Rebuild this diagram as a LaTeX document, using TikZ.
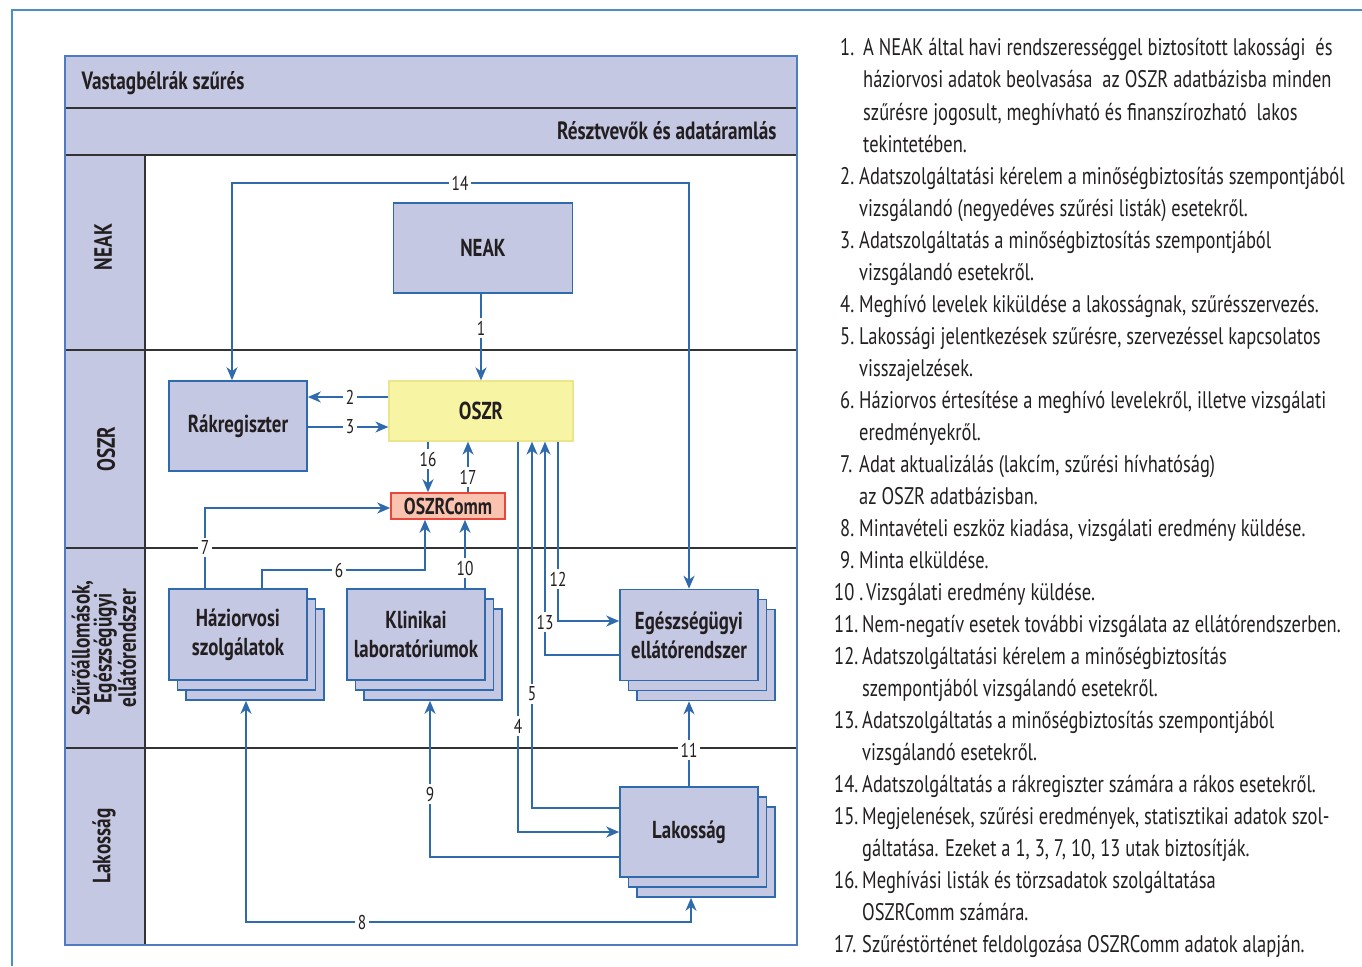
\documentclass[tikz,border=0pt]{standalone}
\usepackage{fontspec}
\setmainfont{PT Sans}[FakeStretch=0.77]
\usetikzlibrary{shadows,arrows.meta}
\definecolor{lav}{HTML}{C5C8E3}
\definecolor{bl}{HTML}{2F6AAC}
\definecolor{fr}{HTML}{4A90C8}
\definecolor{frm}{HTML}{4F7CC0}
\definecolor{ylw}{HTML}{F7F4A4}
\definecolor{ylwd}{HTML}{EBE68C}
\definecolor{sal}{HTML}{F9C3B0}
\definecolor{redb}{HTML}{E8473B}
\definecolor{txt}{HTML}{231F20}
\begin{document}
\begin{tikzpicture}[x=1pt,y=-1pt,
  box/.style={draw=bl, fill=lav, line width=1.6pt, minimum width=138pt, minimum height=91pt, inner sep=0pt, align=center, font=\fontsize{24.5}{29}\selectfont\bfseries, text=txt},
  stackbox/.style={box, double copy shadow={shadow xshift=8.5pt, shadow yshift=-10pt}},
  arr/.style={draw=bl, line width=1.8pt, -{Stealth[length=13pt,width=11pt,inset=4pt]}},
  arrb/.style={draw=bl, line width=1.8pt, {Stealth[length=13pt,width=11pt,inset=4pt]}-{Stealth[length=13pt,width=11pt,inset=4pt]}},
  lbl/.style={fill=white, inner xsep=3pt, inner ysep=2.5pt, font=\fontsize{20}{20}\selectfont, text=txt},
  lane/.style={draw=black!80, line width=1.1pt},
  hdr/.style={font=\fontsize{25}{25}\selectfont\bfseries, text=txt},
  lanelbl/.style={rotate=90, font=\fontsize{25}{22}\selectfont\bfseries, text=txt, align=center},
  num/.style={anchor=base west, inner sep=0pt, font=\fontsize{24}{24}\selectfont, text=txt},
  ltxt/.style={anchor=base west, inner sep=0pt, font=\fontsize{24}{24}\selectfont, text=txt}
]
\useasboundingbox (0,0) rectangle (1362,966);
% outer frame
\draw[fr, line width=2pt] (12,966) -- (12,10) -- (1362,10);
% diagram frame
\fill[lav] (65,56) rectangle (797,155);
\fill[lav] (65,155) rectangle (145,945);
\draw[lane] (65,108) -- (797,108);
\draw[lane] (65,155) -- (797,155);
\draw[lane] (145,155) -- (145,945);
\draw[lane] (65,350) -- (797,350);
\draw[lane] (65,548) -- (797,548);
\draw[lane] (65,748) -- (797,748);
\draw[frm, line width=1.5pt] (65,56) rectangle (797,945);
\node[hdr, anchor=west] (title) at (78,83) {Vastagbélrák szűrés};
\node[hdr, anchor=east] (subtitle) at (780,131) {Résztvevők és adatáramlás};
% lane labels
\node[lanelbl] (l1) at (103,247) {NEAK};
\node[lanelbl] (l2) at (106,449) {OSZR};
\node[lanelbl] (l3) at (104,648) {Szűrőállomások,\\Egészségügyi\\ellátórendszer};
\node[lanelbl] (l4) at (104,846) {Lakosság};
% nodes
\node[box, minimum width=179pt, minimum height=90pt] (neak) at (483,248) {NEAK};
\node[box, minimum height=90pt] (rak) at (238,426) {Rákregiszter};
\node[box, fill=ylw, draw=ylwd, line width=1.2pt, minimum width=184pt, minimum height=60pt] (oszr) at (481,411) {OSZR};
\node[box, fill=sal, draw=redb, line width=1.5pt, minimum width=114pt, minimum height=26pt, font=\fontsize{23}{23}\selectfont\bfseries] (comm) at (448,506) {OSZRComm};
\node[stackbox] (haz) at (238,634.5) {Háziorvosi\\szolgálatok};
\node[stackbox] (lab) at (416,634.5) {Klinikai\\laboratóriumok};
\node[stackbox] (egs) at (689,635) {Egészségügyi\\ellátórendszer};
\node[stackbox, minimum height=90pt] (lak) at (689,832) {Lakosság};
% label coordinates
\coordinate (c1) at (481,328);
\coordinate (c2) at (350,397);
\coordinate (c3) at (350,427);
\coordinate (c14) at (460,183);
\coordinate (c16) at (428,459);
\coordinate (c17) at (468,477);
\coordinate (c7) at (205,547);
\coordinate (c6) at (339,570);
\coordinate (c10) at (465,568);
\coordinate (c4) at (518,726);
\coordinate (c5) at (532,694);
\coordinate (c13) at (545,622);
\coordinate (c12) at (558,579);
\coordinate (c11) at (689,750);
\coordinate (c9) at (430,794);
\coordinate (c8) at (362,922);
\coordinate (k7) at (205,508);
\coordinate (k6) at (262,570);
\coordinate (k6b) at (425,570);
\coordinate (k4) at (518,832);
\coordinate (k5) at (532,808);
\coordinate (k13) at (545,655);
\coordinate (k12) at (558,621);
\coordinate (k9) at (430,857);
\coordinate (k8) at (246,922);
\coordinate (k8b) at (691,922);
% connectors
\draw[arrb] ([xshift=-6pt]rak.north) |- (c14) -| (egs.north);
\draw[arr] (neak.south -| c1) -- (oszr.north -| c1);
\draw[arr] (oszr.west |- c2) -- (rak.east |- c2);
\draw[arr] (rak.east |- c3) -- (oszr.west |- c3);
\draw[arr] (oszr.south -| c16) -- (comm.north -| c16);
\draw[arr] (comm.north -| c17) -- (oszr.south -| c17);
\draw[arr] (haz.north -| k7) -- (k7) -- (comm.west |- k7);
\draw[arr] (haz.north -| k6) -- (k6) -- (k6b) -- (comm.south -| k6b);
\draw[arr] (lab.north -| c10) -- (comm.south -| c10);
\draw[arr] (oszr.south -| k4) -- (k4) -- (lak.west |- k4);
\draw[arr] (lak.west |- k5) -- (k5) -- (oszr.south -| k5);
\draw[arr] (egs.west |- k13) -- (k13) -- (oszr.south -| k13);
\draw[arr] (oszr.south -| k12) -- (k12) -- (egs.west |- k12);
\draw[arr] (lak.north) -- ([yshift=-20pt]egs.south);
\draw[arr] (lak.west |- k9) -- (k9) -- ([yshift=-20pt]lab.south -| k9);
\draw[arrb] ([yshift=-20pt]haz.south -| k8) -- (k8) -- (k8b) -- ([yshift=-20pt]lak.south -| k8b);
% labels
\foreach \c/\t in {c1/1,c2/2,c3/3,c14/14,c16/16,c17/17,c7/7,c6/6,c10/10,c4/4,c5/5,c13/13,c12/12,c11/11,c9/9,c8/8}
  \node[lbl] (t\c) at (\c) {\t};
% list
\node[num] (n1) at (840,56) {1.};
\node[ltxt] (a1) at (863,56) {A NEAK által havi rendszerességgel biztosított lakossági \ és};
\node[ltxt] (a1b) at (863,88) {háziorvosi adatok beolvasása \ az OSZR adatbázisba minden};
\node[ltxt] (a1c) at (863,120) {szűrésre jogosult, meghívható és finanszírozható \ lakos};
\node[ltxt] (a1d) at (863,152) {tekintetében.};
\node[num] (n2) at (840,184) {2.};
\node[ltxt] (a2) at (859,184) {Adatszolgáltatási kérelem a minőségbiztosítás szempontjából};
\node[ltxt] (a2b) at (859,216) {vizsgálandó (negyedéves szűrési listák) esetekről.};
\node[num] (n3) at (840,248) {3.};
\node[ltxt] (a3) at (859,248) {Adatszolgáltatás a minőségbiztosítás szempontjából};
\node[ltxt] (a3b) at (859,280) {vizsgálandó esetekről.};
\node[num] (n4) at (840,312) {4.};
\node[ltxt] (a4) at (859,312) {Meghívó levelek kiküldése a lakosságnak, szűrésszervezés.};
\node[num] (n5) at (840,344) {5.};
\node[ltxt] (a5) at (859,344) {Lakossági jelentkezések szűrésre, szervezéssel kapcsolatos};
\node[ltxt] (a5b) at (859,376) {visszajelzések.};
\node[num] (n6) at (840,408) {6.};
\node[ltxt] (a6) at (859,408) {Háziorvos értesítése a meghívó levelekről, illetve vizsgálati};
\node[ltxt] (a6b) at (859,440) {eredményekről.};
\node[num] (n7) at (840,472) {7.};
\node[ltxt] (a7) at (859,472) {Adat aktualizálás (lakcím, szűrési hívhatóság)};
\node[ltxt] (a7b) at (859,504) {az OSZR adatbázisban.};
\node[num] (n8) at (840,536) {8.};
\node[ltxt] (a8) at (859,536) {Mintavételi eszköz kiadása, vizsgálati eredmény küldése.};
\node[num] (n9) at (840,568) {9.};
\node[ltxt] (a9) at (859,568) {Minta elküldése.};
\node[num] (n10) at (834,600) {10 .};
\node[ltxt] (a10) at (866,600) {Vizsgálati eredmény küldése.};
\node[num] (n11) at (834,632) {11.};
\node[ltxt] (a11) at (862,632) {Nem-negatív esetek további vizsgálata az ellátórendszerben.};
\node[num] (n12) at (834,664) {12.};
\node[ltxt] (a12) at (862,664) {Adatszolgáltatási kérelem a minőségbiztosítás};
\node[ltxt] (a12b) at (862,696) {szempontjából vizsgálandó esetekről.};
\node[num] (n13) at (834,728) {13.};
\node[ltxt] (a13) at (862,728) {Adatszolgáltatás a minőségbiztosítás szempontjából};
\node[ltxt] (a13b) at (862,760) {vizsgálandó esetekről.};
\node[num] (n14) at (834,792) {14.};
\node[ltxt] (a14) at (862,792) {Adatszolgáltatás a rákregiszter számára a rákos esetekről.};
\node[num] (n15) at (834,824) {15.};
\node[ltxt] (a15) at (862,824) {Megjelenések, szűrési eredmények, statisztikai adatok szol-};
\node[ltxt] (a15b) at (862,856) {gáltatása. Ezeket a 1, 3, 7, 10, 13 utak biztosítják.};
\node[num] (n16) at (834,888) {16.};
\node[ltxt] (a16) at (862,888) {Meghívási listák és törzsadatok szolgáltatása};
\node[ltxt] (a16b) at (862,920) {OSZRComm számára.};
\node[num] (n17) at (834,952) {17.};
\node[ltxt] (a17) at (862,952) {Szűréstörténet feldolgozása OSZRComm adatok alapján.};
\end{tikzpicture}
\end{document}
